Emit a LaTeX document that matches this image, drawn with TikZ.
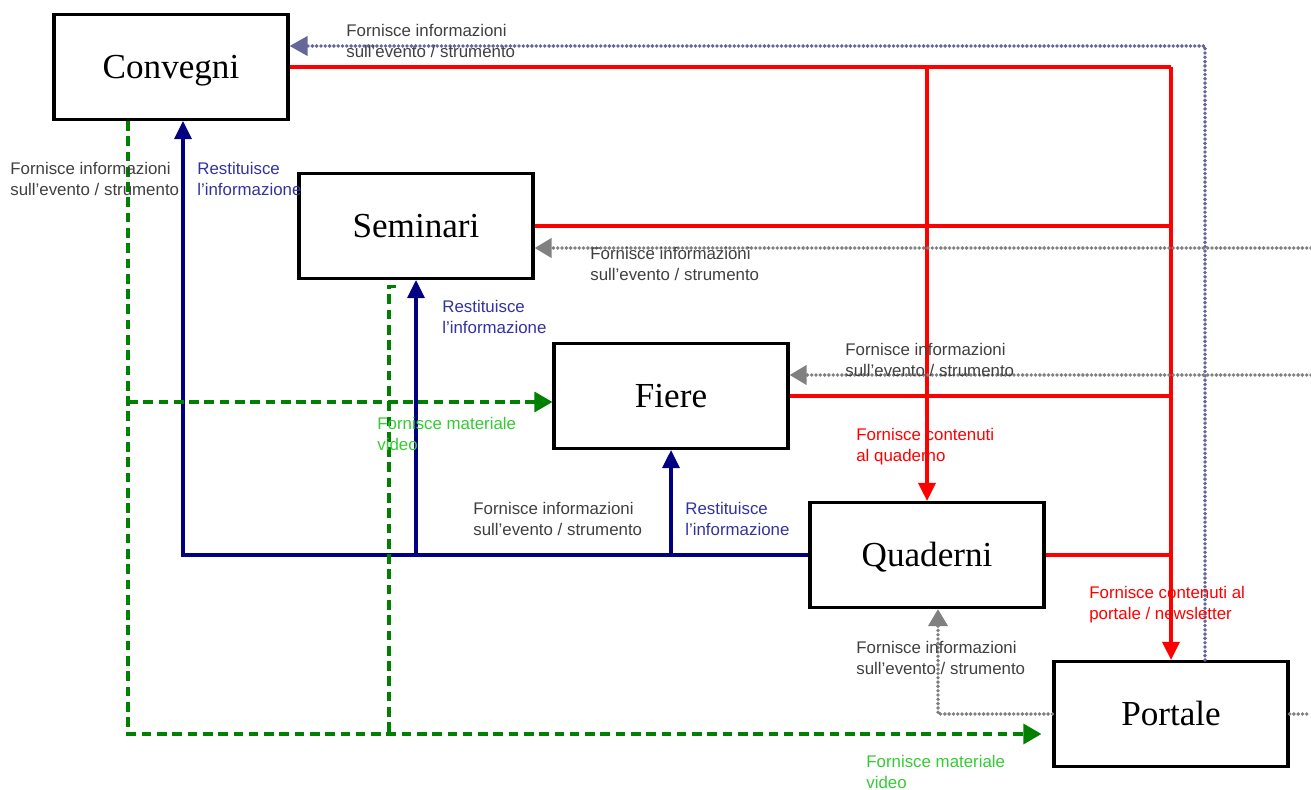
\documentclass[tikz,border=0pt]{standalone}
\usepackage{fontspec}
\setmainfont{Liberation Serif}
\setsansfont{Liberation Sans}
\usetikzlibrary{arrows.meta,positioning}

\definecolor{flowred}{RGB}{255,0,0}
\definecolor{backnavy}{RGB}{0,0,128}
\definecolor{backtext}{RGB}{51,51,160}
\definecolor{videogreen}{RGB}{0,128,0}
\definecolor{videotext}{RGB}{51,204,51}
\definecolor{infopurple}{RGB}{102,102,153}
\definecolor{infogray}{RGB}{128,128,128}
\definecolor{infotext}{RGB}{64,64,64}

\begin{document}
\begin{tikzpicture}[x=0.02cm, y=-0.02cm,
    box/.style={draw, line width=1.8pt, minimum width=4.68cm, minimum height=2.1cm,
        text height=13.2pt, text depth=0pt, font=\fontsize{20}{24}\selectfont},
    lbl/.style={anchor=north west, inner sep=0pt, align=left,
        font=\sffamily\fontsize{9.6}{11.9}\selectfont},
    infolbl/.style={lbl, text=infotext},
    backlbl/.style={lbl, text=backtext},
    redlbl/.style={lbl, text=flowred},
    videolbl/.style={lbl, text=videotext},
    redline/.style={draw=flowred, line width=1.75pt},
    redarrow/.style={redline, -{Triangle[length=0.36cm, width=0.34cm]}},
    bluearrow/.style={draw=backnavy, line width=1.75pt, -{Triangle[length=0.36cm, width=0.34cm]}},
    greenline/.style={draw=videogreen, line width=1.75pt, dash pattern=on 5.5pt off 3.2pt},
    greenarrow/.style={greenline, -{Triangle[length=0.36cm, width=0.4cm]}},
    dotline/.style={line width=2.2pt, line cap=round, dash pattern=on 0pt off 2.45pt},
    purplearrow/.style={dotline, draw=infopurple, -{Triangle[length=0.36cm, width=0.38cm, fill=infopurple]}},
    grayline/.style={dotline, draw=infogray},
    grayarrow/.style={grayline, -{Triangle[length=0.34cm, width=0.38cm, fill=infogray]}}
]
\useasboundingbox (0,0) rectangle (1311,790);

% the five boxes
\node (conv) [box] at (171,67) {Convegni};
\node (sem) [box] at (416,226) {Seminari};
\node (fiere) [box] at (671,396) {Fiere};
\node (quad) [box] at (927,555) {Quaderni};
\node (port) [box] at (1171,714) {Portale};

% red: contents to quaderni and portale
\draw[redline] (conv.east) -- (conv.east -| port.north);
\draw[redline] (sem.east) -- (sem.east -| port.north);
\draw[redline] (fiere.east) -- (fiere.east -| port.north);
\draw[redline] (quad.east) -- (quad.east -| port.north);
\draw[redarrow] (conv.east -| quad.north) -- (quad.north);
\draw[redarrow] (conv.east -| port.north) -- (port.north);

% blue: information given back
\draw[bluearrow] (quad.west) -| ([xshift=0.24cm]conv.south);
\draw[bluearrow] (quad.west -| sem.south) -- (sem.south);
\draw[bluearrow] (quad.west -| fiere.south) -- (fiere.south);

% green: video material
\path ([xshift=-0.86cm]conv.south) coordinate (gl)
      ([yshift=-0.4cm]port.west) coordinate (gp)
      ([yshift=-0.12cm]fiere.west) coordinate (gf)
      ([xshift=-0.4cm, yshift=-0.12cm]sem.south) coordinate (gs);
\draw[greenarrow, shorten >=0.22cm] (gl) |- (gp);
\draw[greenarrow] (gl |- gf) -- (gf);
\draw[greenline] (gs) -- ++(-7,0) coordinate (gs2) -- (gs2 |- gp);

% dotted: information about the event
\coordinate (pv) at (1205,46);
\coordinate (semin) at (1311,248);
\coordinate (fierein) at (1311,375);
\coordinate (portout) at (1311,714);
\draw[purplearrow] (port.north -| pv) -- (pv) -- (conv.east |- pv);
\draw[grayarrow] (semin) -- (sem.east |- semin);
\draw[grayarrow] (fierein) -- (fiere.east |- fierein);
\draw[grayline] (port.east) -- (portout);
\draw[grayarrow] (port.west) -| ([xshift=0.22cm]quad.south);

% labels
\node (lblconv) [infolbl] at (346,24) {Fornisce informazioni\\sull’evento / strumento};
\node (lblconvleft) [infolbl] at (10,162) {Fornisce informazioni\\sull’evento / strumento};
\node (lblbackconv) [backlbl] at (197,162) {Restituisce\\l’informazione};
\node (lblsem) [infolbl] at (590,247) {Fornisce informazioni\\sull’evento / strumento};
\node (lblbacksem) [backlbl] at (442,300) {Restituisce\\l’informazione};
\node (lblfiere) [infolbl] at (845,343) {Fornisce informazioni\\sull’evento / strumento};
\node (lblvideofiere) [videolbl] at (377,417) {Fornisce materiale\\video};
\node (lblquad) [redlbl] at (856,428) {Fornisce contenuti\\al quaderno};
\node (lblquadleft) [infolbl] at (473,502) {Fornisce informazioni\\sull’evento / strumento};
\node (lblbackfiere) [backlbl] at (685,502) {Restituisce\\l’informazione};
\node (lblport) [redlbl] at (1089,586) {Fornisce contenuti al\\portale / newsletter};
\node (lblportinfo) [infolbl] at (856,641) {Fornisce informazioni\\sull’evento / strumento};
\node (lblvideoport) [videolbl] at (866,755) {Fornisce materiale\\video};
\end{tikzpicture}
\end{document}
